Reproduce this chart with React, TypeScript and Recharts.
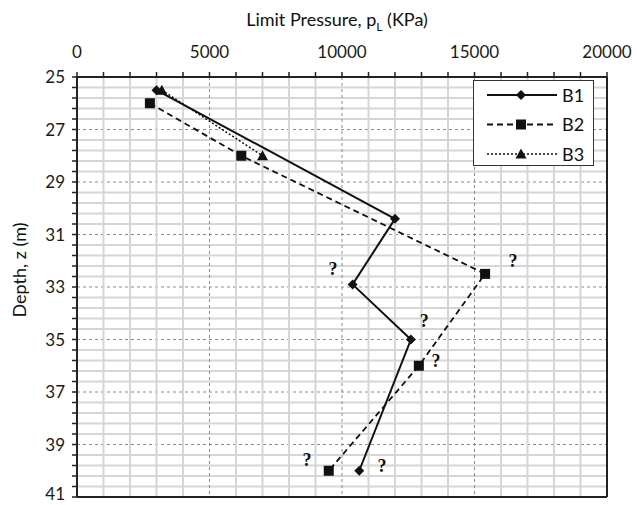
import React from "react";
import {
  LineChart,
  Line,
  XAxis,
  YAxis,
  CartesianGrid,
  Legend,
  ReferenceLine,
  ReferenceDot,
} from "recharts";

// pressiometer limit pressure vs depth, three boreholes
const b1Pressure = [3000, 12000, 10400, 12600, 10650];
const b1Depth = [25.5, 30.4, 32.9, 35, 40];
const b2Pressure = [2750, 6200, 15400, 12900, 9500];
const b2Depth = [26, 28, 32.5, 36, 40];
const b3Pressure = [3200, 7000];
const b3Depth = [25.5, 28];

// "?" marks next to doubtful readings
const qPressure = [9660, 16450, 13100, 13550, 8680, 11510];
const qDepth = [32.3, 32.0, 34.3, 35.8, 39.6, 39.8];

const pressureTicks = [
  0, 1000, 2000, 3000, 4000, 5000, 6000, 7000, 8000, 9000, 10000, 11000,
  12000, 13000, 14000, 15000, 16000, 17000, 18000, 19000, 20000,
];
const pressureLabels = [0, 5000, 10000, 15000, 20000];
const depthTicks = [
  25, 25.4, 25.8, 26.2, 26.6, 27, 27.4, 27.8, 28.2, 28.6, 29, 29.4, 29.8,
  30.2, 30.6, 31, 31.4, 31.8, 32.2, 32.6, 33, 33.4, 33.8, 34.2, 34.6, 35,
  35.4, 35.8, 36.2, 36.6, 37, 37.4, 37.8, 38.2, 38.6, 39, 39.4, 39.8, 40.2,
  40.6, 41,
];
const depthLabels = [25, 27, 29, 31, 33, 35, 37, 39, 41];

const toRows = (p: number[], z: number[]) =>
  p.map((v, i) => ({ p: v, z: z[i] }));

const b1 = toRows(b1Pressure, b1Depth);
const b2 = toRows(b2Pressure, b2Depth);
const b3 = toRows(b3Pressure, b3Depth);
const marks = toRows(qPressure, qDepth);

const FONT = "Lato, 'Open Sans', sans-serif";
const INK = "#111";

const Diamond = ({ cx, cy }: any) => (
  <path
    d={`M${cx},${cy - 5}L${cx + 5},${cy}L${cx},${cy + 5}L${cx - 5},${cy}Z`}
    fill={INK}
  />
);
const Square = ({ cx, cy }: any) => (
  <rect x={cx - 5} y={cy - 5} width={10} height={10} fill={INK} />
);
const Triangle = ({ cx, cy }: any) => (
  <path
    d={`M${cx},${cy - 5.5}L${cx + 5.5},${cy + 4.5}L${cx - 5.5},${cy + 4.5}Z`}
    fill={INK}
  />
);

const series = [
  { name: "B1", data: b1, dash: undefined, width: 2, Dot: Diamond },
  { name: "B2", data: b2, dash: "6 4", width: 1.8, Dot: Square },
  { name: "B3", data: b3, dash: "2 2", width: 1.5, Dot: Triangle },
];

const gridLine = (props: any) => {
  const major = props.index % 5 === 0;
  return (
    <line
      key={props.key}
      x1={props.x1}
      y1={props.y1}
      x2={props.x2}
      y2={props.y2}
      stroke={major ? "#8a8a8a" : "#d6d6d6"}
      strokeWidth={major ? 1 : 2}
      strokeDasharray={major ? "3 3" : undefined}
    />
  );
};

const LegendBox = () => (
  <div
    style={{
      width: 121,
      height: 86,
      border: "1px solid #333",
      background: "#fff",
      boxSizing: "border-box",
    }}
  >
    <svg width={121} height={86}>
      {series.map((s, i) => {
        const y = 14 + i * 29.5;
        return (
          <g key={s.name}>
            <line
              x1={13}
              x2={83}
              y1={y}
              y2={y}
              stroke={INK}
              strokeWidth={s.width}
              strokeDasharray={s.dash}
            />
            <s.Dot cx={47} cy={y} />
            <text
              x={88}
              y={y + 6.5}
              fontFamily={FONT}
              fontSize={18}
              fill={INK}
            >
              {s.name}
            </text>
          </g>
        );
      })}
    </svg>
  </div>
);

const PressureTitle = ({ viewBox }: any) => (
  <text
    x={viewBox.x + viewBox.width / 2 - 5}
    y={26}
    textAnchor="middle"
    fontFamily={FONT}
    fontSize={18}
    fill={INK}
  >
    Limit Pressure, p
    <tspan fontSize={12} dy={5}>
      L
    </tspan>
    <tspan dy={-5}> (KPa)</tspan>
  </text>
);

const DepthTitle = () => (
  <text
    x={26}
    y={270}
    transform="rotate(-90 26 270)"
    textAnchor="middle"
    fontFamily={FONT}
    fontSize={18}
    fill={INK}
  >
    Depth, z (m)
  </text>
);

// y tick labels: only odd metres, kept inside the picture at the bottom
const DepthTick = ({ x, y, payload }: any) => {
  if (!depthLabels.includes(payload.value)) return <g />;
  return (
    <text
      x={x}
      y={Math.min(y, 494) + 6}
      textAnchor="end"
      fontFamily={FONT}
      fontSize={17}
      fill="#1a1a1a"
    >
      {payload.value}
    </text>
  );
};

const QuestionMark = ({ cx, cy }: any) => (
  <text
    x={cx}
    y={cy + 6}
    textAnchor="middle"
    fontFamily="'Liberation Serif', 'DejaVu Serif', serif"
    fontWeight="bold"
    fontSize={18}
    fill={INK}
  >
    ?
  </text>
);

export default function App() {
  const tickStyle = { fontFamily: FONT, fontSize: 17, fill: "#1a1a1a" };
  return (
    <div style={{ position: "absolute", left: 0, top: 0 }}>
      <LineChart
        width={637}
        height={505}
        margin={{ top: 0, right: 30, bottom: 8, left: 0 }}
      >
        <CartesianGrid
          horizontal={gridLine}
          vertical={gridLine}
          stroke="#d6d6d6"
        />
        <XAxis
          type="number"
          dataKey="p"
          orientation="top"
          height={77}
          domain={[0, 20000]}
          ticks={pressureTicks}
          interval={0}
          tickFormatter={(v: number) =>
            pressureLabels.includes(v) ? String(v) : ""
          }
          tick={tickStyle}
          tickSize={5}
          tickMargin={14}
          axisLine={{ stroke: "#222", strokeWidth: 2 }}
          tickLine={{ stroke: "#222", strokeWidth: 1.5 }}
          label={<PressureTitle />}
          allowDataOverflow
        />
        <YAxis
          type="number"
          dataKey="z"
          width={77}
          domain={[25, 41]}
          reversed
          ticks={depthTicks}
          interval={0}
          tick={<DepthTick />}
          tickSize={5}
          tickMargin={7}
          axisLine={{ stroke: "#222", strokeWidth: 2 }}
          tickLine={{ stroke: "#222", strokeWidth: 1.5 }}
          label={<DepthTitle />}
          allowDataOverflow
        />
        <ReferenceLine x={20000} stroke="#222" strokeWidth={2} />
        <ReferenceLine y={41} stroke="#222" strokeWidth={2} />
        {series.map((s) => (
          <Line
            key={s.name}
            data={s.data}
            dataKey="z"
            name={s.name}
            type="linear"
            stroke={INK}
            strokeWidth={s.width}
            strokeDasharray={s.dash}
            dot={(props: any) => <s.Dot key={props.index} {...props} />}
            activeDot={false}
            isAnimationActive={false}
          />
        ))}
        {marks.map((m, i) => (
          <ReferenceDot
            key={i}
            x={m.p}
            y={m.z}
            r={0}
            shape={(props: any) => <QuestionMark {...props} />}
          />
        ))}
        <Legend
          layout="vertical"
          align="center"
          verticalAlign="middle"
          wrapperStyle={{ top: 80, left: 473, width: 121 }}
          content={<LegendBox />}
        />
      </LineChart>
    </div>
  );
}
